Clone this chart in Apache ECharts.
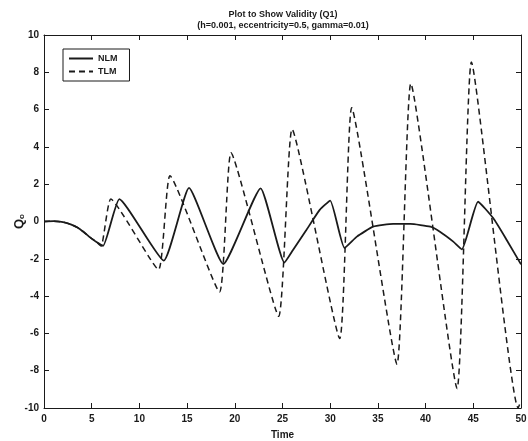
<!DOCTYPE html>
<html>
<head>
<meta charset="utf-8">
<script src="https://cdn.jsdelivr.net/npm/echarts@6/dist/echarts.min.js"></script>
<style>
  html, body { margin: 0; padding: 0; background: #ffffff; }
  #chart { width: 528px; height: 441px; }
</style>
</head>
<body>
<div id="chart"></div>
<script>
// Titles and axis labels
const titleMain = 'Plot to Show Validity (Q1)';
const titleSub = '(h=0.001, eccentricity=0.5, gamma=0.01)';
const xName = 'Time';
const seriesNames = ['NLM', 'TLM'];

// Axis ranges / tick steps
const xRange = [0, 50];
const xStep = 5;
const yRange = [-10, 10];
const yStep = 2;

// NLM (non-linear model) samples: time and Q0
const nlmTime = [0, 1, 2, 2.8, 3.5, 4.2, 4.9, 5.5, 6.2, 7.9, 12.55, 15.2, 18.8, 22.7, 25.2, 26.1, 27.5, 28.9, 30.0, 31.5, 32.8, 34.5, 36.6, 38.4, 40.5, 41.5, 42.9, 43.8, 45.5, 47.1, 48.5, 50];
const nlmValue = [0, 0.02, -0.03, -0.15, -0.32, -0.58, -0.88, -1.1, -1.3, 1.2, -2.1, 1.8, -2.28, 1.78, -2.2, -1.53, -0.46, 0.62, 1.12, -1.42, -0.81, -0.28, -0.13, -0.13, -0.28, -0.55, -1.08, -1.49, 1.06, 0.17, -0.99, -2.3];

// TLM (tangent linear model) samples: time and Q0
const tlmTime = [0, 1, 2, 2.8, 3.5, 4.2, 4.9, 5.5, 6.0, 7.0, 12.0, 13.2, 18.4, 19.6, 24.6, 26.0, 31.0, 32.25, 37.0, 38.45, 43.3, 44.8, 49.7, 50];
const tlmValue = [0, 0.02, -0.03, -0.15, -0.32, -0.58, -0.88, -1.1, -1.32, 1.2, -2.58, 2.45, -3.78, 3.68, -5.08, 4.95, -6.28, 6.1, -7.65, 7.4, -8.95, 8.55, -10.0, -9.6];

const pairs = (xs, ys) => xs.map((x, i) => [x, ys[i]]);

const ink = '#1a1a1a';
const fontFamily = 'Liberation Sans, Arial, sans-serif';
const labelFont = { color: ink, fontSize: 10, fontWeight: 'bold', fontFamily: fontFamily };

const chart = echarts.init(document.getElementById('chart'), null, { renderer: 'canvas' });

const baseAxis = {
  type: 'value',
  axisLine: { show: true, onZero: false, lineStyle: { color: ink, width: 1 } },
  axisTick: { show: true, inside: true, length: 5, lineStyle: { color: ink, width: 1 } },
  splitLine: { show: false },
  minorTick: { show: false }
};

chart.setOption({
  animation: false,
  backgroundColor: '#ffffff',
  title: {
    text: titleMain + '\n' + titleSub,
    left: 283,
    top: 9,
    padding: 0,
    textAlign: 'center',
    textStyle: { color: ink, fontSize: 9, fontWeight: 'bold', lineHeight: 11, fontFamily: fontFamily }
  },
  legend: {
    left: 63,
    top: 49,
    orient: 'vertical',
    padding: [5, 12, 5, 5],
    itemGap: 4,
    itemWidth: 24,
    itemHeight: 10,
    backgroundColor: '#ffffff',
    borderColor: ink,
    borderWidth: 1,
    borderRadius: 0,
    itemStyle: { opacity: 0 },
    textStyle: { color: ink, fontSize: 9, fontWeight: 'bold', fontFamily: fontFamily },
    data: seriesNames
  },
  grid: { left: 44, right: 7, top: 35, bottom: 33, containLabel: false, outerBoundsMode: 'none' },
  xAxis: [
    Object.assign({}, baseAxis, {
      position: 'bottom',
      min: xRange[0], max: xRange[1], interval: xStep,
      name: xName,
      nameLocation: 'middle',
      nameGap: 22,
      nameMoveOverlap: false,
      nameTextStyle: { color: ink, fontSize: 10, fontWeight: 'bold', fontFamily: fontFamily },
      axisLabel: Object.assign({ margin: 6 }, labelFont)
    }),
    Object.assign({}, baseAxis, {
      position: 'top',
      min: xRange[0], max: xRange[1], interval: xStep,
      axisLabel: { show: false }
    })
  ],
  yAxis: [
    Object.assign({}, baseAxis, {
      position: 'left',
      min: yRange[0], max: yRange[1], interval: yStep,
      name: '{q|Q}{s|o}',
      nameLocation: 'middle',
      nameRotate: 90,
      nameGap: 18,
      nameMoveOverlap: false,
      nameTextStyle: {
        rich: {
          q: { color: ink, fontSize: 13, fontWeight: 'bold', fontFamily: fontFamily, lineHeight: 16, verticalAlign: 'bottom' },
          s: { color: ink, fontSize: 8, fontWeight: 'bold', fontFamily: fontFamily, lineHeight: 16, verticalAlign: 'bottom', padding: [7, 0, 0, 0] }
        }
      },
      axisLabel: Object.assign({ margin: 5 }, labelFont)
    }),
    Object.assign({}, baseAxis, {
      position: 'right',
      min: yRange[0], max: yRange[1], interval: yStep,
      axisLabel: { show: false }
    })
  ],
  series: [
    {
      name: seriesNames[0],
      type: 'line',
      xAxisIndex: 0,
      yAxisIndex: 0,
      data: pairs(nlmTime, nlmValue),
      showSymbol: false,
      symbol: 'none',
      smooth: 0.15,
      lineStyle: { color: ink, width: 1.8, type: 'solid' },
      itemStyle: { color: ink },
      z: 3
    },
    {
      name: seriesNames[1],
      type: 'line',
      xAxisIndex: 0,
      yAxisIndex: 0,
      data: pairs(tlmTime, tlmValue),
      showSymbol: false,
      symbol: 'none',
      smooth: 0.15,
      lineStyle: { color: ink, width: 1.5, type: [6, 4] },
      itemStyle: { color: ink },
      z: 2
    }
  ]
});
</script>
</body>
</html>
